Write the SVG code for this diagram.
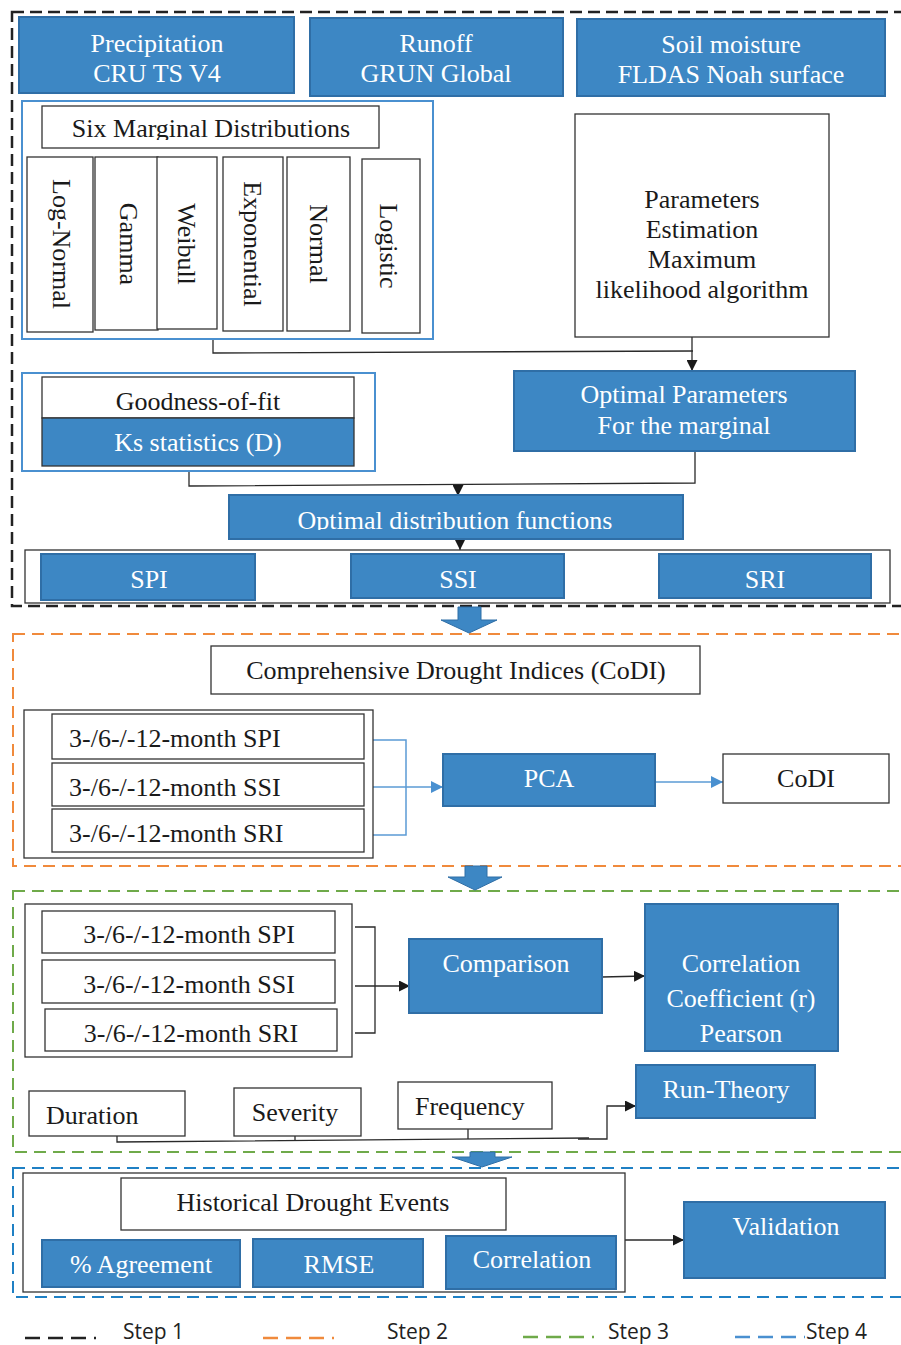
<svg xmlns="http://www.w3.org/2000/svg" width="901" height="1345" viewBox="0 0 901 1345">
<style>
text{font-family:"Liberation Serif","Times New Roman",serif;font-size:26px;fill:#1a1a1a}
.w{fill:#ffffff}
.c{text-anchor:middle}
.bb{fill:#3d87c4;stroke:#2f6ea6;stroke-width:2}
.wb{fill:#ffffff;stroke:#333333;stroke-width:1.3}
.lb{fill:none;stroke:#4a90d0;stroke-width:2}
.con{fill:none;stroke:#2a2a2a;stroke-width:1.3}
.bcon{fill:none;stroke:#5b9bd5;stroke-width:1.5}
.blk{fill:#3d87c4;stroke:#2f6ea6;stroke-width:1}
.leg{font-family:"Open Sans","Liberation Sans",sans-serif;font-size:21px;fill:#222}
</style>
<defs>
<marker id="ah" viewBox="0 0 10 10" refX="10" refY="5" markerWidth="11" markerHeight="11" markerUnits="userSpaceOnUse" orient="auto"><path d="M0,0 L10,5 L0,10 Z" fill="#1a1a1a"/></marker>
<marker id="ahb" viewBox="0 0 10 10" refX="10" refY="5" markerWidth="12" markerHeight="12" markerUnits="userSpaceOnUse" orient="auto"><path d="M0,0 L10,5 L0,10 Z" fill="#4a90d0"/></marker>
<clipPath id="clip6"><rect x="40" y="100" width="345" height="40"/></clipPath>
<clipPath id="clipOD"><rect x="229" y="495" width="455" height="35"/></clipPath>
</defs>
<rect width="901" height="1345" fill="#ffffff"/>

<g id="steps">
<rect x="12" y="12" width="950" height="594" fill="none" stroke="#222" stroke-width="2.5" stroke-dasharray="12 6"/>
<rect x="13" y="634" width="950" height="232" fill="none" stroke="#f08a3c" stroke-width="2" stroke-dasharray="12 7"/>
<rect x="13" y="891" width="950" height="261" fill="none" stroke="#6faa4a" stroke-width="2" stroke-dasharray="12 7"/>
<rect x="13" y="1168" width="950" height="129" fill="none" stroke="#1f80c4" stroke-width="2" stroke-dasharray="12 7"/>
</g>

<g id="block-arrows">
<path class="blk" d="M458,607 H481 V620 H497 L469,633 L441,620 H458 Z"/>
<path class="blk" d="M465,866 H487 V877 H502 L475,890 L448,877 H465 Z"/>
<path class="blk" d="M470,1152 H495 V1157 H512 L482,1167 L452,1157 H470 Z"/>
</g>

<g id="connectors">
<path class="con" d="M213,339 V353 L693,351"/>
<path class="con" d="M692,337 V371" marker-end="url(#ah)"/>
<path class="con" d="M189,472 V486 L695,483 V452"/>
<path class="con" d="M458,484 V496" marker-end="url(#ah)"/>
<path class="con" d="M460,539 V550" marker-end="url(#ah)"/>
<path class="bcon" d="M373,740 H406 V835 H373"/>
<path class="bcon" d="M373,787 H443" marker-end="url(#ahb)"/>
<path class="bcon" d="M655,782 H723" marker-end="url(#ahb)"/>
<path class="con" d="M355,927 H375 V1033 H355"/>
<path class="con" d="M355,986 H410" marker-end="url(#ah)"/>
<path class="con" d="M602,977 L645,976" marker-end="url(#ah)"/>
<path class="con" d="M117,1135 V1142 L589,1138"/>
<path class="con" d="M295,1136 V1141"/>
<path class="con" d="M468,1129 V1139"/>
<path class="con" d="M578,1139 H607 V1106 H636" marker-end="url(#ah)"/>
<path class="con" d="M625,1240 H684" marker-end="url(#ah)"/>
</g>

<g id="precipitation"><rect class="bb" x="19" y="17" width="275" height="76"/><text class="w c" x="157" y="52">Precipitation</text><text class="w c" x="157" y="82">CRU TS V4</text></g>
<g id="runoff"><rect class="bb" x="310" y="18" width="253" height="78"/><text class="w c" x="436" y="52">Runoff</text><text class="w c" x="436" y="82">GRUN Global</text></g>
<g id="soil"><rect class="bb" x="577" y="19" width="308" height="77"/><text class="w c" x="731" y="53">Soil moisture</text><text class="w c" x="731" y="83">FLDAS Noah surface</text></g>

<g id="marginals">
<rect class="lb" x="22" y="101" width="411" height="238"/>
<rect class="wb" x="42" y="106" width="337" height="42"/>
<text class="c" x="211" y="137" clip-path="url(#clip6)">Six Marginal Distributions</text>
<rect class="wb" x="27" y="157" width="66" height="175"/>
<rect class="wb" x="95" y="157" width="63" height="173"/>
<rect class="wb" x="157" y="157" width="60" height="172"/>
<rect class="wb" x="223" y="157" width="60" height="174"/>
<rect class="wb" x="287" y="157" width="63" height="174"/>
<rect class="wb" x="362" y="159" width="58" height="174"/>
<text class="c" transform="translate(53,244) rotate(90)">Log-Normal</text>
<text class="c" transform="translate(120,244) rotate(90)">Gamma</text>
<text class="c" transform="translate(178,244) rotate(90)">Weibull</text>
<text class="c" transform="translate(244,244) rotate(90)">Exponential</text>
<text class="c" transform="translate(310,244) rotate(90)">Normal</text>
<text class="c" transform="translate(380,246) rotate(90)">Logistic</text>
</g>

<g id="parameters"><rect class="wb" x="575" y="114" width="254" height="223"/>
<text class="c" x="702" y="208">Parameters</text><text class="c" x="702" y="238">Estimation</text><text class="c" x="702" y="268">Maximum</text><text class="c" x="702" y="298">likelihood algorithm</text></g>

<g id="goodness"><rect class="lb" x="22" y="373" width="353" height="98"/>
<rect class="wb" x="42" y="377" width="312" height="41"/><text class="c" x="198" y="410">Goodness-of-fit</text>
<rect class="bb" x="42" y="418" width="312" height="48" style="stroke:#333;stroke-width:1.3"/><text class="w c" x="198" y="451">Ks statistics (D)</text></g>

<g id="optimal-params"><rect class="bb" x="514" y="371" width="341" height="80"/><text class="w c" x="684" y="403">Optimal Parameters</text><text class="w c" x="684" y="434">For the marginal</text></g>

<g id="optimal-dist"><rect class="bb" x="229" y="495" width="454" height="44"/><text class="w c" x="455" y="529" clip-path="url(#clipOD)">Optimal distribution functions</text></g>

<g id="indices1"><rect class="wb" x="25" y="550" width="865" height="53"/>
<rect class="bb" x="41" y="554" width="214" height="46"/><text class="w c" x="149" y="588">SPI</text>
<rect class="bb" x="351" y="554" width="213" height="44"/><text class="w c" x="458" y="588">SSI</text>
<rect class="bb" x="659" y="554" width="212" height="44"/><text class="w c" x="765" y="588">SRI</text></g>

<g id="codi-title"><rect class="wb" x="211" y="646" width="489" height="48"/><text class="c" x="456" y="679">Comprehensive Drought Indices (CoDI)</text></g>

<g id="step2-inputs"><rect class="wb" x="24" y="710" width="349" height="148"/>
<rect class="wb" x="52" y="714" width="312" height="45"/><text x="69" y="747">3-/6-/-12-month SPI</text>
<rect class="wb" x="52" y="763" width="312" height="43"/><text x="69" y="796">3-/6-/-12-month SSI</text>
<rect class="wb" x="52" y="809" width="312" height="43"/><text x="69" y="842">3-/6-/-12-month SRI</text></g>

<g id="pca"><rect class="bb" x="443" y="754" width="212" height="52"/><text class="w c" x="549" y="787">PCA</text></g>
<g id="codi"><rect class="wb" x="723" y="754" width="166" height="49"/><text class="c" x="806" y="787">CoDI</text></g>

<g id="step3-inputs"><rect class="wb" x="25" y="904" width="327" height="153"/>
<rect class="wb" x="42" y="911" width="293" height="42"/><text class="c" x="189" y="943">3-/6-/-12-month SPI</text>
<rect class="wb" x="42" y="960" width="293" height="43"/><text class="c" x="189" y="993">3-/6-/-12-month SSI</text>
<rect class="wb" x="45" y="1009" width="292" height="42"/><text class="c" x="191" y="1042">3-/6-/-12-month SRI</text></g>

<g id="comparison"><rect class="bb" x="409" y="939" width="193" height="74"/><text class="w c" x="506" y="972">Comparison</text></g>
<g id="correlation-coef"><rect class="bb" x="645" y="904" width="193" height="147"/><text class="w c" x="741" y="972">Correlation</text><text class="w c" x="741" y="1007">Coefficient (r)</text><text class="w c" x="741" y="1042">Pearson</text></g>

<g id="duration"><rect class="wb" x="29" y="1091" width="156" height="45"/><text x="46" y="1124">Duration</text></g>
<g id="severity"><rect class="wb" x="234" y="1088" width="127" height="48"/><text class="c" x="295" y="1121">Severity</text></g>
<g id="frequency"><rect class="wb" x="398" y="1082" width="154" height="47"/><text x="415" y="1115">Frequency</text></g>
<g id="run-theory"><rect class="bb" x="636" y="1065" width="179" height="53"/><text class="w c" x="726" y="1098">Run-Theory</text></g>

<g id="historical"><rect class="wb" x="23" y="1173" width="602" height="119"/>
<rect class="wb" x="121" y="1178" width="385" height="52"/><text class="c" x="313" y="1211">Historical Drought Events</text>
<rect class="bb" x="42" y="1240" width="198" height="47"/><text class="w c" x="141" y="1273">% Agreement</text>
<rect class="bb" x="253" y="1239" width="170" height="48"/><text class="w c" x="339" y="1273">RMSE</text>
<rect class="bb" x="446" y="1236" width="170" height="53"/><text class="w c" x="532" y="1268">Correlation</text></g>

<g id="validation"><rect class="bb" x="684" y="1202" width="201" height="76"/><text class="w c" x="786" y="1235">Validation</text></g>

<g id="legend">
<line x1="25" y1="1338" x2="100" y2="1338" stroke="#222" stroke-width="2.5" stroke-dasharray="15 8 15 8 15 8 2 8"/>
<text class="leg" x="123" y="1339">Step 1</text>
<line x1="263" y1="1338" x2="341" y2="1338" stroke="#f08a3c" stroke-width="2.5" stroke-dasharray="15 8 15 8 15 8 2 8"/>
<text class="leg" x="387" y="1339">Step 2</text>
<line x1="523" y1="1337" x2="597" y2="1337" stroke="#6faa4a" stroke-width="2.5" stroke-dasharray="15 8 15 8 15 8 2 8"/>
<text class="leg" x="608" y="1339">Step 3</text>
<line x1="735" y1="1337" x2="805" y2="1337" stroke="#4a90d0" stroke-width="2.5" stroke-dasharray="15 8 15 8 15 8"/>
<text class="leg" x="806" y="1339">Step 4</text>
</g>
</svg>
